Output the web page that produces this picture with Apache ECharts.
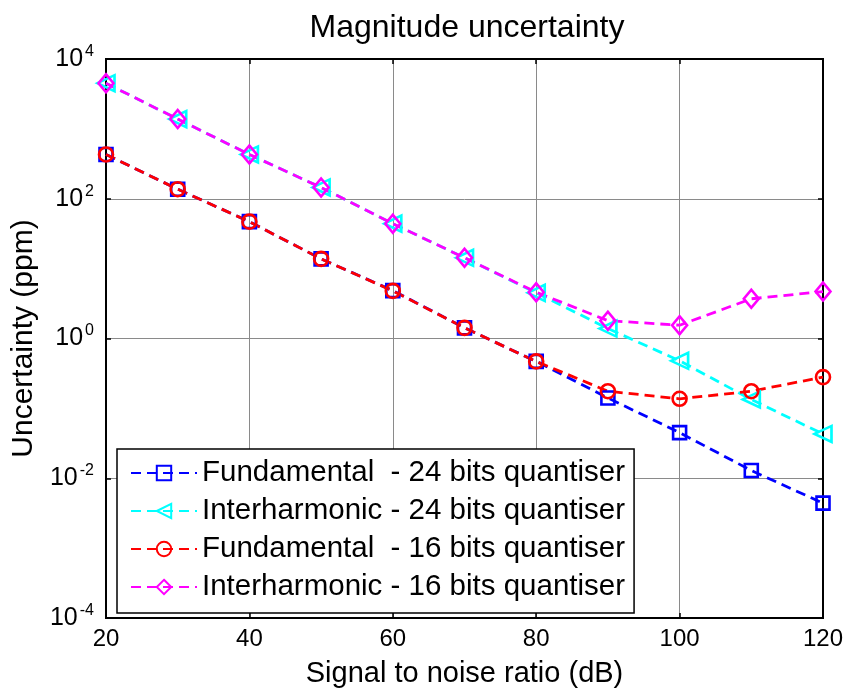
<!DOCTYPE html>
<html>
<head>
<meta charset="utf-8">
<script src="https://cdn.jsdelivr.net/npm/echarts@6/dist/echarts.min.js"></script>
<style>
  html, body { margin: 0; padding: 0; background: #fff; }
  #chart { width: 847px; height: 693px; }
</style>
</head>
<body>
<div id="chart"></div>
<script>
// Signal-to-noise ratio (dB) on the x axis
const snr = [20, 30, 40, 50, 60, 70, 80, 90, 100, 110, 120];

// Magnitude uncertainty in ppm for each configuration
const fund24  = [430, 137, 47, 13.8, 4.85, 1.42, 0.47, 0.141, 0.045, 0.0129, 0.0044];
const inter24 = [4500, 1380, 430, 145, 44, 14.3, 4.5, 1.39, 0.48, 0.134, 0.043];
const fund16  = [430, 137, 47, 13.8, 4.8, 1.42, 0.47, 0.176, 0.137, 0.176, 0.28];
const inter16 = [4500, 1380, 430, 145, 44, 14.3, 4.6, 1.8, 1.55, 3.7, 4.7];

const seriesNames = [
  'Fundamental  - 24 bits quantiser',
  'Interharmonic - 24 bits quantiser',
  'Fundamental  - 16 bits quantiser',
  'Interharmonic - 16 bits quantiser'
];

// Axis ranges and tick spacing
const xTicks = [20, 40, 60, 80, 100, 120];
const yExponents = [-4, -2, 0, 2, 4];

const FONT = "'Liberation Sans', Arial, Helvetica, sans-serif";

function pairs(ys) { return snr.map((x, i) => [x, ys[i]]); }

function makeSeries(name, ys, color, symbol, size, rotate) {
  return {
    name: name,
    type: 'line',
    data: pairs(ys),
    symbol: symbol,
    symbolSize: size,
    symbolRotate: rotate || 0,
    showAllSymbol: true,
    clip: false,
    lineStyle: { color: color, width: 2.8, type: [10, 6] },
    itemStyle: { color: 'rgba(0,0,0,0)', borderColor: color, borderWidth: 2.6 },
    emphasis: { disabled: true }
  };
}

const supLabel = {
  formatter: function (v) {
    const e = Math.round(Math.log10(v));
    return '{b|10}{s|' + e + '}';
  },
  margin: 12,
  rich: {
    b: { fontSize: 25, fontFamily: FONT, color: '#000' },
    s: { fontSize: 16, fontFamily: FONT, color: '#000', padding: [0, 0, 15, 2] }
  }
};

const chart = echarts.init(document.getElementById('chart'), null, { renderer: 'canvas' });

chart.setOption({
  animation: false,
  backgroundColor: '#fff',
  title: {
    text: 'Magnitude uncertainty',
    left: 462,
    top: 7,
    textAlign: 'center',
    textStyle: { fontFamily: FONT, fontSize: 32, fontWeight: 'normal', color: '#000' }
  },
  grid: {
    left: 106, right: 24, top: 59, bottom: 69,
    show: true, borderColor: '#000', borderWidth: 2, backgroundColor: '#fff'
  },
  legend: {
    orient: 'vertical',
    left: 117,
    top: 449,
    data: seriesNames,
    backgroundColor: '#fff',
    borderColor: '#000',
    borderWidth: 1.5,
    borderRadius: 0,
    padding: [9, 9, 11, 13],
    itemGap: 8,
    itemWidth: 66,
    itemHeight: 18,
    textStyle: { fontFamily: FONT, fontSize: 29.5, color: '#000', lineHeight: 30 },
    selectedMode: false
  },
  xAxis: [
    {
      type: 'value',
      min: xTicks[0],
      max: xTicks[xTicks.length - 1],
      interval: xTicks[1] - xTicks[0],
      name: 'Signal to noise ratio (dB)',
      nameLocation: 'middle',
      nameGap: 41,
      nameTextStyle: { fontFamily: FONT, fontSize: 29, color: '#000' },
      axisLine: { show: true, onZero: false, lineStyle: { color: '#000', width: 2 } },
      axisTick: { show: true, inside: true, length: 5, lineStyle: { color: '#000', width: 1.5 } },
      axisLabel: { fontFamily: FONT, fontSize: 24, color: '#000', margin: 9 },
      splitLine: { show: true, lineStyle: { color: '#8a8a8a', width: 1 } }
    },
    {
      type: 'value',
      position: 'top',
      min: xTicks[0],
      max: xTicks[xTicks.length - 1],
      interval: xTicks[1] - xTicks[0],
      axisLine: { show: true, onZero: false, lineStyle: { color: '#000', width: 2 } },
      axisTick: { show: true, inside: true, length: 5, lineStyle: { color: '#000', width: 1.5 } },
      axisLabel: { show: false },
      splitLine: { show: false }
    }
  ],
  yAxis: [
    {
      type: 'log',
      logBase: 10,
      min: Math.pow(10, yExponents[0]),
      max: Math.pow(10, yExponents[yExponents.length - 1]),
      interval: yExponents[1] - yExponents[0],
      name: 'Uncertainty (ppm)',
      nameLocation: 'middle',
      nameGap: 60,
      nameTextStyle: { fontFamily: FONT, fontSize: 30, color: '#000' },
      axisLine: { show: true, onZero: false, lineStyle: { color: '#000', width: 2 } },
      axisTick: { show: true, inside: true, length: 5, lineStyle: { color: '#000', width: 1.5 } },
      axisLabel: supLabel,
      minorTick: { show: false },
      splitLine: { show: true, lineStyle: { color: '#8a8a8a', width: 1 } }
    },
    {
      type: 'log',
      logBase: 10,
      position: 'right',
      min: Math.pow(10, yExponents[0]),
      max: Math.pow(10, yExponents[yExponents.length - 1]),
      interval: yExponents[1] - yExponents[0],
      axisLine: { show: true, onZero: false, lineStyle: { color: '#000', width: 2 } },
      axisTick: { show: true, inside: true, length: 5, lineStyle: { color: '#000', width: 1.5 } },
      axisLabel: { show: false },
      splitLine: { show: false }
    }
  ],
  series: [
    makeSeries(seriesNames[0], fund24, '#0000ff', 'rect', 13),
    makeSeries(seriesNames[1], inter24, '#00ffff', 'triangle', [16, 17], 90),
    makeSeries(seriesNames[2], fund16, '#ff0000', 'circle', 14),
    makeSeries(seriesNames[3], inter16, '#ff00ff', 'diamond', [15, 18])
  ]
});
</script>
</body>
</html>
